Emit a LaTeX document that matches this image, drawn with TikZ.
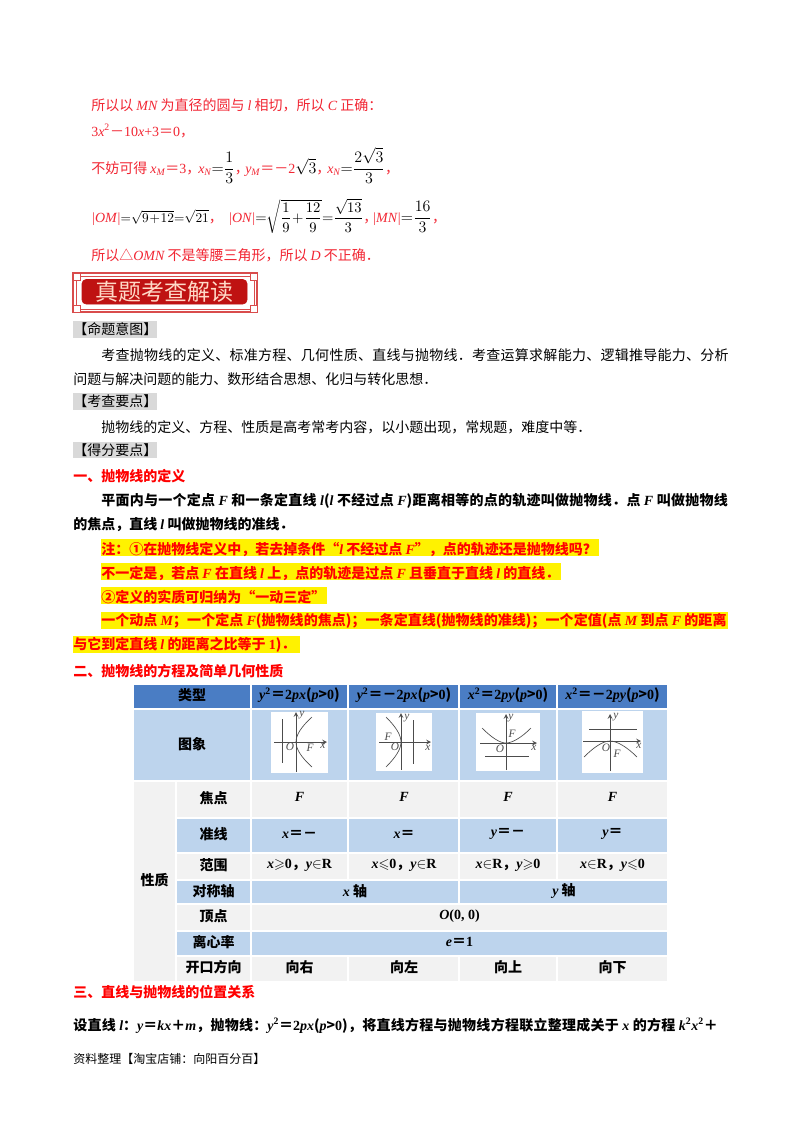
\documentclass[tikz,border=0pt]{standalone}
\usepackage{xcolor}
\usepackage{amsmath,amssymb}
\usepackage[no-math]{fontspec}
\usepackage{tikz}
\setmainfont{Noto Sans CJK SC}
\newfontfamily\latinfont{Liberation Serif}
\newcommand{\vr}[1]{{\latinfont\itshape #1}}
\newcommand{\nm}[1]{{\latinfont #1}}
\newcommand{\spc}[1]{\addfontfeature{LetterSpace=#1}}
\newcommand{\blk}[2][11.5]{\textcolor{black}{\fontsize{#1}{13}\selectfont\thickmuskip=0mu\medmuskip=1mu$#2$}}
\definecolor{headblue}{rgb}{0.29,0.49,0.77}
\definecolor{paleblue}{rgb}{0.74,0.83,0.93}
\definecolor{palegrey}{rgb}{0.95,0.95,0.95}
\definecolor{tagrey}{rgb}{0.85,0.85,0.85}
\definecolor{redtxt}{rgb}{0.95,0.15,0.2}
\definecolor{bannerred}{rgb}{0.75,0.07,0.07}
\definecolor{bannertxt}{rgb}{1,0.85,0.78}
\definecolor{framered}{rgb}{0.85,0.3,0.3}
\definecolor{graphline}{rgb}{0.3,0.3,0.3}
\tikzset{
  txt/.style={anchor=base west,inner sep=0pt,font=\fontsize{10.5}{12}\selectfont},
  redline/.style={txt,text=redtxt},
  boldline/.style={txt,font=\fontsize{10.5}{12}\selectfont\bfseries},
  noteline/.style={boldline,text=red},
  tagfill/.style={fill=tagrey,draw=none},
  hilite/.style={fill=yellow,draw=none},
  headcell/.style={fill=headblue,draw=white,line width=0.8pt},
  bluecell/.style={fill=paleblue,draw=white,line width=0.8pt},
  greycell/.style={fill=palegrey,draw=white,line width=0.8pt},
  celltxt/.style={anchor=center,inner sep=0pt,font=\fontsize{10.5}{12}\selectfont\bfseries},
  graphbox/.style={fill=white,draw=none},
  graphaxis/.style={graphline,line width=0.6pt,-stealth},
  guideline/.style={graphline,line width=0.6pt},
  parab/.style={graphline,line width=0.5pt},
  graphlabel/.style={anchor=center,inner sep=0pt,font=\fontsize{8.5}{9}\selectfont\latinfont\itshape,text=graphline},
}
\begin{document}
\begin{tikzpicture}[x=0.75pt,y=0.75pt,yscale=-1,xscale=1]
        \useasboundingbox (0,0) rectangle (800,1132);
        \fill [white] (0,0) rectangle (800,1132);
        % red solution lines
        \node (sol1) [redline] at (91,110) {所以以 \vr{MN} 为直径的圆与 \vr{l} 相切，所以 \vr{C} 正确：};
        \node (sol2) [redline] at (91,136) {\nm{3}\vr{x}\nm{\textsuperscript{2}}－\nm{10}\vr{x}\nm{+3}＝\nm{0}，};
        \node (sol3a) [redline] at (91,173) {不妨可得 \vr{x\textsubscript{M}}＝\nm{3}，};
        \node (sol3b) [redline] at (198,173) {\vr{x\textsubscript{N}}\blk{=\dfrac{1}{3}}，};
        \node (sol3c) [redline] at (245,173) {\vr{y\textsubscript{M}}＝－\nm{2}\blk{\sqrt{3}}，};
        \node (sol3d) [redline] at (327,173) {\vr{x\textsubscript{N}}\blk{=\dfrac{2\sqrt{3}}{3}}，};
        \node (sol4a) [redline] at (91,222) {\vr{|OM|}\blk[10]{=\sqrt{9+12}=\sqrt{21}}，};
        \node (sol4b) [redline] at (228,222) {\vr{|ON|}\blk[10.5]{=\sqrt{\dfrac{1}{9}+\dfrac{12}{9}}=\dfrac{\sqrt{13}}{3}}，};
        \node (sol4c) [redline] at (372,222) {\vr{|MN|}\blk{=\dfrac{16}{3}}，};
        \node (sol5) [redline] at (91,260) {所以△\vr{OMN} 不是等腰三角形，所以 \vr{D} 不正确．};
        % banner
        \draw [framered,fill=white,line width=1.4pt] (73,273) rectangle (257,312);
        \draw [framered,line width=0.6pt] (76,276) rectangle (254,309);
        \draw [framered,fill=white,line width=0.6pt] (73,273) rectangle (80,280);
        \draw [framered,fill=white,line width=0.6pt] (250,273) rectangle (257,280);
        \draw [framered,fill=white,line width=0.6pt] (73,305) rectangle (80,312);
        \draw [framered,fill=white,line width=0.6pt] (250,305) rectangle (257,312);
        \draw [bannerred,fill=bannerred,rounded corners=3pt] (82,279.5) rectangle (247,304);
        \node (banner) [anchor=center,inner sep=0pt,text=bannertxt,font=\fontsize{17.25}{20}\selectfont] at (164.5,292) {真题考查解读};
        % grey tags
        \fill [tagfill] (72.5,321) rectangle (157,337.5);
        \node (tagA) [txt] at (73,334) {【命题意图】};
        \fill [tagfill] (72.5,393) rectangle (157,410);
        \node (tagB) [txt] at (73,406) {【考查要点】};
        \fill [tagfill] (72.5,442) rectangle (157,458);
        \node (tagC) [txt] at (73,455) {【得分要点】};
        \node (aim1) [txt] at (101,360) {\spc{1.9}考查抛物线的定义、标准方程、几何性质、直线与抛物线．考查运算求解能力、逻辑推导能力、分析};
        \node (aim2) [txt] at (73,384) {问题与解决问题的能力、数形结合思想、化归与转化思想．};
        \node (key1) [txt] at (101,432) {抛物线的定义、方程、性质是高考常考内容，以小题出现，常规题，难度中等．};
        % section one
        \node (sec1) [boldline,text=red] at (73,481) {一、抛物线的定义};
        \node (def1) [boldline] at (101,505) {\spc{1.9}平面内与一个定点 \vr{F} 和一条定直线 \vr{l}(\vr{l} 不经过点 \vr{F})距离相等的点的轨迹叫做抛物线．点 \vr{F} 叫做抛物线};
        \node (def2) [boldline] at (73,529) {的焦点，直线 \vr{l} 叫做抛物线的准线．};
        \fill [hilite] (101,538.5) rectangle (599,555.5);
        \node (note1) [noteline] at (101,554) {注：①在抛物线定义中，若去掉条件“\vr{l} 不经过点 \vr{F}”，点的轨迹还是抛物线吗？};
        \fill [hilite] (101,563) rectangle (561,580);
        \node (note2) [noteline] at (101,578) {不一定是，若点 \vr{F} 在直线 \vr{l} 上，点的轨迹是过点 \vr{F} 且垂直于直线 \vr{l} 的直线．};
        \fill [hilite] (101,587) rectangle (327,604);
        \node (note3) [noteline] at (101,602) {②定义的实质可归纳为“一动三定”};
        \fill [hilite] (101,611.5) rectangle (728,628.5);
        \node (note4) [noteline] at (101,625) {\spc{0.4}一个动点 \vr{M}；一个定点 \vr{F}(抛物线的焦点)；一条定直线(抛物线的准线)；一个定值(点 \vr{M} 到点 \vr{F} 的距离};
        \fill [hilite] (73,635.5) rectangle (300,652.5);
        \node (note5) [noteline] at (73,649) {与它到定直线 \vr{l} 的距离之比等于 \nm{1})．};
        \node (sec2) [boldline,text=red] at (73,676) {二、抛物线的方程及简单几何性质};
        % table cells
        \draw [headcell] (133,684) rectangle (251,709);
        \draw [headcell] (251,684) rectangle (348,709);
        \draw [headcell] (348,684) rectangle (459,709);
        \draw [headcell] (459,684) rectangle (557,709);
        \draw [headcell] (557,684) rectangle (668,709);
        \draw [bluecell] (133,709) rectangle (251,781);
        \draw [bluecell] (251,709) rectangle (348,781);
        \draw [bluecell] (348,709) rectangle (459,781);
        \draw [bluecell] (459,709) rectangle (557,781);
        \draw [bluecell] (557,709) rectangle (668,781);
        \draw [greycell] (133,781) rectangle (176,982);
        \draw [greycell] (176,781) rectangle (251,818);
        \draw [greycell] (251,781) rectangle (348,818);
        \draw [greycell] (348,781) rectangle (459,818);
        \draw [greycell] (459,781) rectangle (557,818);
        \draw [greycell] (557,781) rectangle (668,818);
        \draw [bluecell] (176,818) rectangle (251,853);
        \draw [bluecell] (251,818) rectangle (348,853);
        \draw [bluecell] (348,818) rectangle (459,853);
        \draw [bluecell] (459,818) rectangle (557,853);
        \draw [bluecell] (557,818) rectangle (668,853);
        \draw [greycell] (176,853) rectangle (251,880);
        \draw [greycell] (251,853) rectangle (348,880);
        \draw [greycell] (348,853) rectangle (459,880);
        \draw [greycell] (459,853) rectangle (557,880);
        \draw [greycell] (557,853) rectangle (668,880);
        \draw [bluecell] (176,880) rectangle (251,904);
        \draw [bluecell] (251,880) rectangle (459,904);
        \draw [bluecell] (459,880) rectangle (668,904);
        \draw [greycell] (176,904) rectangle (251,931);
        \draw [greycell] (251,904) rectangle (668,931);
        \draw [bluecell] (176,931) rectangle (251,956);
        \draw [bluecell] (251,931) rectangle (668,956);
        \draw [greycell] (176,956) rectangle (251,982);
        \draw [greycell] (251,956) rectangle (348,982);
        \draw [greycell] (348,956) rectangle (459,982);
        \draw [greycell] (459,956) rectangle (557,982);
        \draw [greycell] (557,956) rectangle (668,982);
        % table head
        \node (kind) [celltxt] at (192,695) {类型};
        \node (headA) [celltxt] at (299.5,695) {\vr{y}\nm{\textsuperscript{2}}＝\nm{2}\vr{px}(\vr{p}>\nm{0})};
        \node (headB) [celltxt] at (404,695) {\vr{y}\nm{\textsuperscript{2}}＝－\nm{2}\vr{px}(\vr{p}>\nm{0})};
        \node (headC) [celltxt] at (508,695) {\vr{x}\nm{\textsuperscript{2}}＝\nm{2}\vr{py}(\vr{p}>\nm{0})};
        \node (headD) [celltxt] at (612.5,695) {\vr{x}\nm{\textsuperscript{2}}＝－\nm{2}\vr{py}(\vr{p}>\nm{0})};
        \node (image) [celltxt] at (192,744) {图象};
        \node (props) [celltxt] at (154.5,880) {性质};
        % right-opening graph
        \fill [graphbox] (271,712) rectangle (328,773);
        \draw [graphaxis] (274,742) -- (327,742);
        \draw [graphaxis] (296,772) -- (296,712);
        \draw [guideline] (282,719) -- (282,763);
        \draw [parab] (312,717) .. controls (301,727) and (296,735) .. (296,742) .. controls (296,749) and (301,757) .. (312,767);
        \node (yA) [graphlabel] at (302,715) {y};
        \node (oA) [graphlabel] at (290,747) {O};
        \node (fA) [graphlabel] at (310,748) {F};
        \node (xA) [graphlabel] at (323,746) {x};
        % left-opening graph
        \fill [graphbox] (376,713) rectangle (432,771);
        \draw [graphaxis] (379,742) -- (431,742);
        \draw [graphaxis] (401,770) -- (401,713);
        \draw [guideline] (413,720) -- (413,764);
        \draw [parab] (386,717) .. controls (396,727) and (401,735) .. (401,742) .. controls (401,749) and (396,757) .. (386,767);
        \node (yB) [graphlabel] at (407,718) {y};
        \node (oB) [graphlabel] at (395,747) {O};
        \node (fB) [graphlabel] at (388,737) {F};
        \node (xB) [graphlabel] at (428,748) {x};
        % upward graph
        \fill [graphbox] (476,713) rectangle (540,771);
        \draw [graphaxis] (480,743) -- (537,743);
        \draw [graphaxis] (506,770) -- (506,714);
        \draw [guideline] (485,756) -- (529,756);
        \draw [parab] (482,728) .. controls (492,738) and (500,743) .. (506,743) .. controls (512,743) and (521,738) .. (531,728);
        \node (yC) [graphlabel] at (511,718) {y};
        \node (oC) [graphlabel] at (500,749) {O};
        \node (fC) [graphlabel] at (512,734) {F};
        \node (xC) [graphlabel] at (534,748) {x};
        % downward graph
        \fill [graphbox] (582,711) rectangle (643,773);
        \draw [graphaxis] (583,741) -- (641,741);
        \draw [graphaxis] (610,771) -- (610,714);
        \draw [guideline] (589,729) -- (637,729);
        \draw [parab] (584,757) .. controls (594,747) and (603,741) .. (610,741) .. controls (617,741) and (627,747) .. (637,757);
        \node (yD) [graphlabel] at (616,717) {y};
        \node (oD) [graphlabel] at (606,748) {O};
        \node (fD) [graphlabel] at (617,754) {F};
        \node (xD) [graphlabel] at (639,746) {x};
        % table rows
        \node (focus) [celltxt] at (213.5,798) {焦点};
        \node (focA) [celltxt] at (299.5,797) {\vr{F}};
        \node (focB) [celltxt] at (404,797) {\vr{F}};
        \node (focC) [celltxt] at (508,797) {\vr{F}};
        \node (focD) [celltxt] at (612.5,797) {\vr{F}};
        \node (direc) [celltxt] at (213.5,834) {准线};
        \node (dirA) [celltxt] at (299.5,834) {\vr{x}＝－};
        \node (dirB) [celltxt] at (404,834) {\vr{x}＝};
        \node (dirC) [celltxt] at (508,834) {\vr{y}＝－};
        \node (dirD) [celltxt] at (612.5,834) {\vr{y}＝};
        \node (range) [celltxt] at (213.5,865) {范围};
        \node (ranA) [celltxt] at (299.5,865) {\vr{x}$\geqslant$\nm{0}，\vr{y}$\in$\nm{R}};
        \node (ranB) [celltxt] at (404,865) {\vr{x}$\leqslant$\nm{0}，\vr{y}$\in$\nm{R}};
        \node (ranC) [celltxt] at (508,865) {\vr{x}$\in$\nm{R}，\vr{y}$\geqslant$\nm{0}};
        \node (ranD) [celltxt] at (612.5,865) {\vr{x}$\in$\nm{R}，\vr{y}$\leqslant$\nm{0}};
        \node (sym) [celltxt] at (213.5,891) {对称轴};
        \node (symA) [celltxt] at (355,891) {\vr{x} 轴};
        \node (symB) [celltxt] at (564,891) {\vr{y} 轴};
        \node (vert) [celltxt] at (213.5,916) {顶点};
        \node (vertA) [celltxt] at (459.5,916) {\vr{O}\nm{(0, 0)}};
        \node (ecc) [celltxt] at (213.5,942) {离心率};
        \node (eccA) [celltxt] at (459.5,942) {\vr{e}＝\nm{1}};
        \node (open) [celltxt] at (213.5,967) {开口方向};
        \node (opA) [celltxt] at (299.5,967) {向右};
        \node (opB) [celltxt] at (404,967) {向左};
        \node (opC) [celltxt] at (508,967) {向上};
        \node (opD) [celltxt] at (612.5,967) {向下};
        % bottom lines
        \node (sec3) [boldline,text=red] at (73,997) {三、直线与抛物线的位置关系};
        \node (last) [boldline] at (73,1030) {\spc{1.9}设直线 \vr{l}：\vr{y}＝\vr{kx}＋\vr{m}，抛物线：\vr{y}\nm{\textsuperscript{2}}＝\nm{2}\vr{px}(\vr{p}>\nm{0})，将直线方程与抛物线方程联立整理成关于 \vr{x} 的方程 \vr{k}\nm{\textsuperscript{2}}\vr{x}\nm{\textsuperscript{2}}＋};
        \node (foot) [txt,font=\fontsize{9}{11}\selectfont] at (73,1063) {资料整理【淘宝店铺：向阳百分百】};
    \end{tikzpicture}
\end{document}
